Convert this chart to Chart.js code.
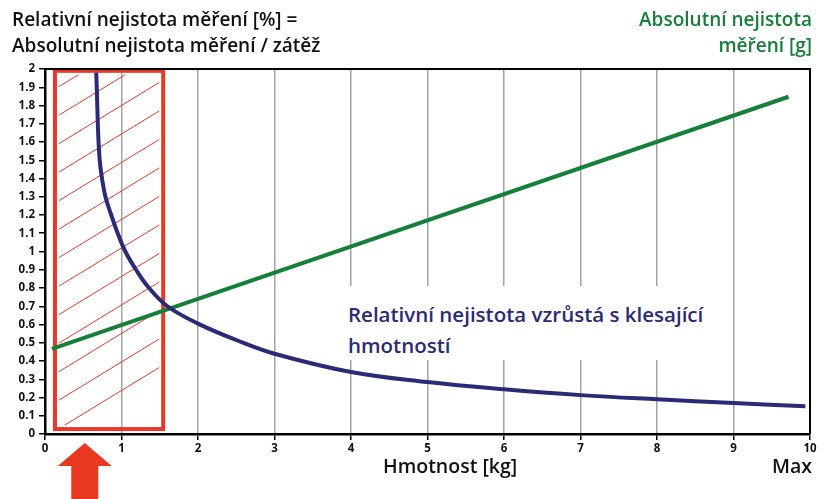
<!DOCTYPE html>
<html>
<head>
<meta charset="utf-8">
<script src="https://cdn.jsdelivr.net/npm/chart.js@4.4.1/dist/chart.umd.min.js"></script>
<style>
  body { margin: 0; background: #fff; }
  #wrap { position: relative; width: 827px; height: 499px; font-family: 'Open Sans', sans-serif; }
  #graf { position: absolute; left: 0; top: 0; }
  .txt { position: absolute; white-space: nowrap; }
  #titleL { left: 12px; top: 6px; font-size: 19px; font-weight: 600; line-height: 26px; color: #111; }
  #titleR { right: 15px; top: 6px; font-size: 19px; font-weight: 600; line-height: 26px; color: #16803a; text-align: right; }
  #note { left: 343px; top: 286px; width: 385px; height: 74px; background: #fff; font-size: 20.5px; font-weight: 600;
          line-height: 31px; color: #2b2a77; padding: 13px 0 0 5px; box-sizing: border-box; }
  #xtitle { left: 383px; top: 452px; font-size: 19.5px; font-weight: 600; color: #111; }
  #maxLbl { right: 15px; top: 452px; font-size: 19.5px; font-weight: 600; color: #111; }
</style>
</head>
<body>
<div id="wrap">
  <canvas id="graf" width="827" height="499"></canvas>
  <div class="txt" id="titleL">Relativní nejistota měření [%] =<br>Absolutní nejistota měření / zátěž</div>
  <div class="txt" id="titleR">Absolutní nejistota<br>měření [g]</div>
  <div class="txt" id="note">Relativní nejistota vzrůstá s klesající<br>hmotností</div>
  <div class="txt" id="xtitle">Hmotnost [kg]</div>
  <div class="txt" id="maxLbl">Max</div>
</div>
<script>
// relativni nejistota (modra krivka)
var relX = [0.67, 0.68, 0.695, 0.715, 0.745, 0.79, 0.866, 0.95, 1.05, 1.19, 1.36, 1.6, 2.0, 2.5, 3, 4, 5, 6, 7, 8, 9, 9.94];
var relY = [1.98, 1.85, 1.65, 1.5, 1.4, 1.3, 1.2, 1.1, 1.0, 0.9, 0.8, 0.7, 0.605, 0.515, 0.44, 0.34, 0.285, 0.245, 0.213, 0.19, 0.17, 0.152];
// absolutni nejistota (zelena primka)
var absX = [0.09, 9.72];
var absY = [0.466, 1.848];
// osy
var xTicks = [0, 1, 2, 3, 4, 5, 6, 7, 8, 9, 10];
var yTickLabels = ["0", "0.1", "0.2", "0.3", "0.4", "0.5", "0.6", "0.7", "0.8", "0.9", "1",
  "1.1", "1.2", "1.3", "1.4", "1.5", "1.6", "1.7", "1.8", "1.9", "2"];
// vyznacena oblast a sipka
var zoneX = [0.13, 1.545];
var zoneY = [0.027, 1.99];
var arrowX = 0.52;

function body(xs, ys) {
  var out = [];
  for (var i = 0; i < xs.length; i++) {
    out.push({ x: xs[i], y: ys[i] });
  }
  return out;
}

var RED = "#e6392a";

var decor = {
  id: "decor",
  beforeDatasetsDraw: function (chart) {
    var ctx = chart.ctx;
    var sx = chart.scales.x, sy = chart.scales.y;
    var x0 = sx.getPixelForValue(zoneX[0]), x1 = sx.getPixelForValue(zoneX[1]);
    var y0 = sy.getPixelForValue(zoneY[1]), y1 = sy.getPixelForValue(zoneY[0]);
    ctx.save();
    // srafovani
    ctx.beginPath();
    ctx.rect(x0 + 4, y0 + 4, x1 - x0 - 8, y1 - y0 - 8);
    ctx.clip();
    ctx.strokeStyle = RED;
    ctx.lineWidth = 1;
    var k = 0.61;
    var w = x1 - x0;
    for (var yy = y1 + 2; yy > y0 - w * k; yy -= 28.5) {
      ctx.beginPath();
      ctx.moveTo(x0, yy);
      ctx.lineTo(x1, yy - w * k);
      ctx.stroke();
    }
    ctx.restore();
    ctx.save();
    ctx.strokeStyle = RED;
    ctx.lineWidth = 4;
    ctx.strokeRect(x0, y0, x1 - x0, y1 - y0);
    ctx.restore();
  },
  afterDraw: function (chart) {
    var ctx = chart.ctx;
    var a = chart.chartArea;
    ctx.save();
    ctx.strokeStyle = "#000";
    ctx.lineWidth = 2;
    ctx.beginPath();
    ctx.moveTo(a.left, a.top);
    ctx.lineTo(a.right, a.top);
    ctx.lineTo(a.right, a.bottom);
    ctx.stroke();
    // sipka
    var ax = chart.scales.x.getPixelForValue(arrowX);
    var tip = a.bottom + 9;
    ctx.fillStyle = "#e8381f";
    ctx.beginPath();
    ctx.moveTo(ax, tip);
    ctx.lineTo(ax + 27, tip + 23);
    ctx.lineTo(ax + 13.5, tip + 23);
    ctx.lineTo(ax + 13.5, chart.height);
    ctx.lineTo(ax - 13.5, chart.height);
    ctx.lineTo(ax - 13.5, tip + 23);
    ctx.lineTo(ax - 27, tip + 23);
    ctx.closePath();
    ctx.fill();
    ctx.restore();
  }
};

Chart.defaults.font.family = "'Open Sans', sans-serif";

new Chart(document.getElementById("graf"), {
  type: "line",
  data: {
    datasets: [
      {
        data: body(relX, relY),
        borderColor: "#2b2a77",
        borderWidth: 4,
        pointRadius: 0,
        tension: 0.4,
        fill: false
      },
      {
        data: body(absX, absY),
        borderColor: "#16803a",
        borderWidth: 4,
        pointRadius: 0,
        fill: false
      }
    ]
  },
  options: {
    responsive: false,
    animation: false,
    layout: { padding: { top: 69, right: 17, left: 0, bottom: 0 } },
    plugins: { legend: { display: false }, tooltip: { enabled: false } },
    scales: {
      x: {
        type: "linear",
        min: 0,
        max: 10,
        afterBuildTicks: function (s) { s.ticks = xTicks.map(function (v) { return { value: v }; }); },
        afterFit: function (s) { s.height = 65; },
        grid: {
          color: function (c) { return c.tick && (c.tick.value === 0 || c.tick.value === 10) ? "rgba(0,0,0,0)" : "#a3a3a3"; },
          lineWidth: 1.5,
          tickColor: "#000",
          tickLength: 6
        },
        border: { color: "#000", width: 2.5 },
        ticks: { color: "#111", font: { size: 11.5, weight: "bold" }, padding: 2, maxRotation: 0 }
      },
      y: {
        min: 0,
        max: 2,
        afterBuildTicks: function (s) { s.ticks = yTickLabels.map(function (l, i) { return { value: i / 10 }; }); },
        afterFit: function (s) { s.width = 45; },
        grid: { drawOnChartArea: false, tickColor: "#000", tickLength: 6, lineWidth: 1.5 },
        border: { color: "#000", width: 2.5 },
        ticks: {
          color: "#111",
          font: { size: 11.5, weight: "bold" },
          padding: 4,
          callback: function (v, i) { return yTickLabels[i]; }
        }
      }
    }
  },
  plugins: [decor]
});
</script>
</body>
</html>
